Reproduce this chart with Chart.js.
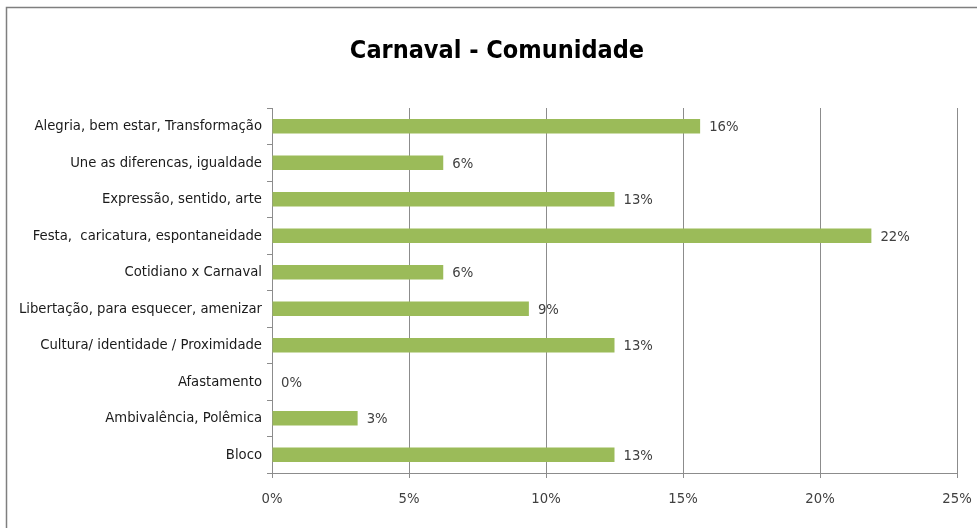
<!DOCTYPE html>
<html>
<head>
<meta charset="utf-8">
<script src="https://cdn.jsdelivr.net/npm/chart.js@4/dist/chart.umd.min.js"></script>
<style>
    html, body { margin: 0; padding: 0; background: #fff; }
    #wrap { position: relative; width: 977px; height: 528px; }
</style>
</head>
<body>
<div id="wrap"><canvas id="carnavalChart" width="977" height="528"></canvas></div>
<script>
// Categories and values (share of answers, %)
const categories = [
    'Alegria, bem estar, Transformação',
    'Une as diferencas, igualdade',
    'Expressão, sentido, arte',
    'Festa,  caricatura, espontaneidade',
    'Cotidiano x Carnaval',
    'Libertação, para esquecer, amenizar',
    'Cultura/ identidade / Proximidade',
    'Afastamento',
    'Ambivalência, Polêmica',
    'Bloco'
];
const values = [15.625, 6.25, 12.5, 21.875, 6.25, 9.375, 12.5, 0, 3.125, 12.5];
const tickValues = [0, 5, 10, 15, 20, 25];
const chartTitle = 'Carnaval - Comunidade';

const fontFamily = '"DejaVu Sans Condensed", "Liberation Sans Narrow", sans-serif';
const gridColor = '#8c8c8c';

// Value labels next to each bar
const barLabels = {
    id: 'barLabels',
    afterDatasetsDraw(chart) {
        const ctx = chart.ctx;
        const meta = chart.getDatasetMeta(0);
        ctx.save();
        ctx.font = '14.7px ' + fontFamily;
        ctx.fillStyle = '#404040';
        ctx.textAlign = 'left';
        ctx.textBaseline = 'middle';
        meta.data.forEach(function (bar, i) {
            ctx.fillText(Math.round(values[i]) + '%', bar.x + 9, bar.y + 1);
        });
        ctx.restore();
    }
};

// Title and outer frame (only top and left edges of the frame fall inside the picture)
const frame = {
    id: 'frame',
    afterDraw(chart) {
        const ctx = chart.ctx;
        ctx.save();
        ctx.strokeStyle = '#7f7f7f';
        ctx.lineWidth = 1.5;
        ctx.beginPath();
        ctx.moveTo(6.5, chart.height);
        ctx.lineTo(6.5, 7.5);
        ctx.lineTo(chart.width, 7.5);
        ctx.stroke();

        ctx.font = 'bold 25px ' + fontFamily;
        ctx.fillStyle = '#000';
        ctx.textAlign = 'center';
        ctx.textBaseline = 'middle';
        ctx.fillText(chartTitle, 497, 51);
        ctx.restore();
    }
};

new Chart(document.getElementById('carnavalChart'), {
    type: 'bar',
    data: {
        labels: categories,
        datasets: [{
            data: values,
            backgroundColor: '#9bbb59',
            borderWidth: 0,
            barPercentage: 1,
            categoryPercentage: 0.4
        }]
    },
    options: {
        indexAxis: 'y',
        responsive: false,
        animation: false,
        layout: {
            padding: { left: 8, right: 20, top: 108, bottom: 0 }
        },
        plugins: {
            legend: { display: false },
            tooltip: { enabled: false },
            title: { display: false }
        },
        scales: {
            x: {
                min: 0,
                max: 25,
                afterBuildTicks: function (scale) {
                    scale.ticks = tickValues.map(v => ({ value: v }));
                },
                afterFit: function (scale) {
                    scale.height = 55;
                    scale.paddingLeft = 0;
                    scale.paddingRight = 0;
                },
                grid: {
                    color: gridColor,
                    lineWidth: 1,
                    tickLength: 5
                },
                border: { color: gridColor, width: 1 },
                ticks: {
                    padding: 12,
                    color: '#404040',
                    font: { family: fontFamily, size: 14.7 },
                    callback: v => v + '%'
                }
            },
            y: {
                afterFit: function (scale) {
                    scale.width = 264;
                    scale.paddingTop = 0;
                    scale.paddingBottom = 0;
                },
                grid: {
                    drawOnChartArea: false,
                    color: gridColor,
                    tickLength: 5
                },
                border: { color: gridColor, width: 1 },
                ticks: {
                    padding: 5,
                    color: '#1a1a1a',
                    font: { family: fontFamily, size: 14.7 }
                }
            }
        }
    },
    plugins: [barLabels, frame]
});
</script>
</body>
</html>
